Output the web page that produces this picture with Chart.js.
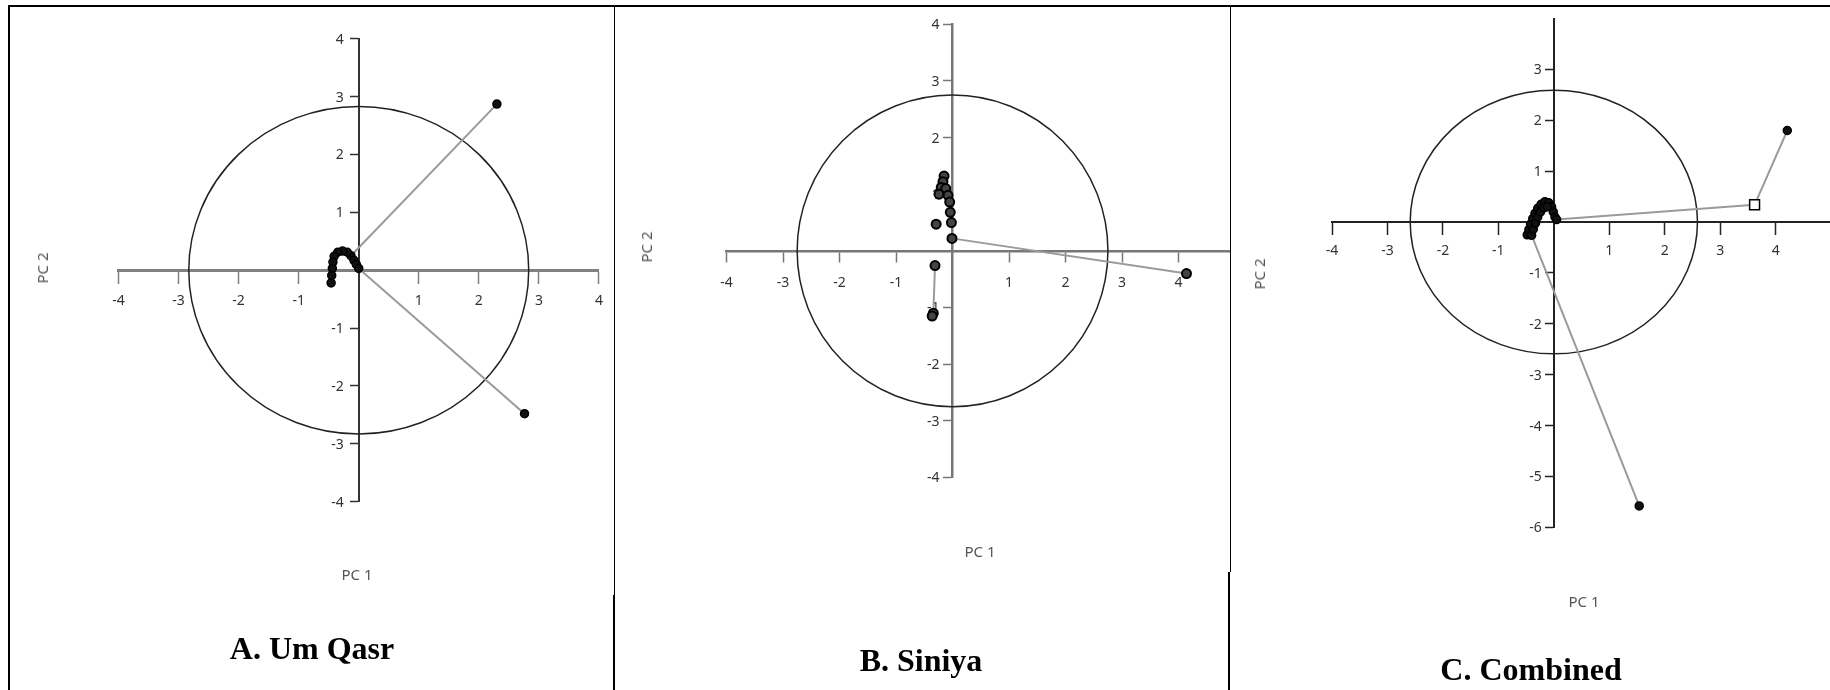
<!DOCTYPE html>
<html>
<head>
<meta charset="utf-8">
<title>PCA score plots</title>
<script src="https://cdn.jsdelivr.net/npm/chart.js@4.4.0/dist/chart.umd.min.js"></script>
<style>
  html, body { margin: 0; padding: 0; background: #fff; }
  body { position: relative; width: 1830px; height: 690px; overflow: hidden; font-family: 'Noto Sans', sans-serif; }
  canvas { position: absolute; top: 0; }
  .rule { position: absolute; background: #000; }
  .axis-title { position: absolute; font-size: 15px; color: #555; white-space: nowrap; transform: translate(-50%, -50%); }
  .axis-title.vertical { transform: translate(-50%, -50%) rotate(-90deg); }
  .caption { position: absolute; font-family: 'Liberation Serif', 'Times New Roman', serif; font-weight: bold; font-size: 32px; line-height: 32px; white-space: nowrap; transform: translateX(-50%); }
</style>
</head>
<body>

<!-- table lines around the three panels -->
<div class="rule" style="left:9px; top:5px; width:1821px; height:1.5px;"></div>
<div class="rule" style="left:8px; top:5px; width:1.6px; height:685px;"></div>
<div class="rule" style="left:613.5px; top:5px; width:1.4px; height:590px;"></div>
<div class="rule" style="left:612.5px; top:595px; width:2.4px; height:95px;"></div>
<div class="rule" style="left:1230px; top:5px; width:1.4px; height:567px;"></div>
<div class="rule" style="left:1228px; top:572px; width:2.4px; height:118px;"></div>

<canvas id="umQasr" width="613" height="690" style="left:0px"></canvas>
<canvas id="siniya" width="614" height="690" style="left:616px"></canvas>
<canvas id="combined" width="599" height="690" style="left:1231px"></canvas>

<div class="axis-title" style="left:357px; top:574px;">PC 1</div>
<div class="axis-title vertical" style="left:42px; top:268px;">PC 2</div>
<div class="axis-title" style="left:980px; top:551px;">PC 1</div>
<div class="axis-title vertical" style="left:646px; top:247px;">PC 2</div>
<div class="axis-title" style="left:1584px; top:601px;">PC 1</div>
<div class="axis-title vertical" style="left:1259px; top:274px;">PC 2</div>

<div class="caption" style="left:312px; top:632px;">A. Um Qasr</div>
<div class="caption" style="left:921px; top:644px;">B. Siniya</div>
<div class="caption" style="left:1531px; top:653px;">C. Combined</div>

<script>
// PC1 / PC2 scores
const umQasrPC1 = [2.30, -0.13, -0.19, -0.27, -0.35, -0.41, -0.43, -0.44, -0.45, -0.46, -0.08, -0.04, 0.00, 2.76];
const umQasrPC2 = [2.87, 0.25, 0.31, 0.33, 0.31, 0.24, 0.14, 0.03, -0.09, -0.22, 0.17, 0.10, 0.03, -2.48];
const umQasrLinks = [[0, 1], [12, 13]];
const umQasrRadius = 2.83;

const siniyaPC1 = [-0.15, -0.17, -0.20, -0.12, -0.24, -0.08, -0.05, -0.04, -0.29, -0.02, -0.01, -0.31, -0.34, -0.36, 4.14];
const siniyaPC2 = [1.32, 1.22, 1.12, 1.10, 1.00, 0.98, 0.86, 0.68, 0.47, 0.50, 0.22, -0.26, -1.10, -1.15, -0.40];
const siniyaLinks = [[10, 14], [11, 12]];
const siniyaRadius = 2.75;

const combinedPC1 = [-0.48, -0.45, -0.42, -0.38, -0.34, -0.29, -0.23, -0.16, -0.09, -0.04, -0.01, 0.02, 0.05,
                     -0.40, -0.37, -0.33, -0.29, -0.24, -0.18, -0.12, 3.62, 4.21, 1.54];
const combinedPC2 = [-0.25, -0.15, -0.04, 0.07, 0.17, 0.27, 0.35, 0.40, 0.38, 0.30, 0.20, 0.10, 0.05,
                     -0.26, -0.14, -0.02, 0.10, 0.20, 0.28, 0.30, 0.34, 1.80, -5.58];
const combinedLinks = [[12, 20], [20, 21], [13, 22]];
const combinedCentroidIndex = 20;
const combinedRadius = 2.59;

// tick labels
const pcTicks = [-4, -3, -2, -1, 1, 2, 3, 4];
const combinedYTicks = [-6, -5, -4, -3, -2, -1, 1, 2, 3];

const tickFont = '14px "Noto Sans"';
const tickColor = '#333';

// reference circle around the origin, drawn through the chart scales
const circlePlugin = {
  id: 'circle',
  beforeDatasetsDraw(chart, args, opts) {
    const { x, y } = chart.scales;
    const cx = x.getPixelForValue(0);
    const cy = y.getPixelForValue(0);
    const rx = x.getPixelForValue(opts.radius) - cx;
    const ry = cy - y.getPixelForValue(opts.radius);
    const ctx = chart.ctx;
    ctx.save();
    ctx.beginPath();
    ctx.ellipse(cx, cy, rx, ry, 0, 0, Math.PI * 2);
    ctx.strokeStyle = '#222';
    ctx.lineWidth = 1.5;
    ctx.stroke();
    ctx.restore();
  }
};

// chart.js puts y labels of an axis crossing at x=0 right on top of the ticks,
// so they are drawn here, left of the tick marks
const yLabelPlugin = {
  id: 'yLabels',
  beforeDatasetsDraw(chart, args, opts) {
    const { x, y } = chart.scales;
    const ctx = chart.ctx;
    const lx = x.getPixelForValue(0) - opts.offset;
    ctx.save();
    ctx.font = tickFont;
    ctx.fillStyle = tickColor;
    ctx.textAlign = 'right';
    ctx.textBaseline = 'middle';
    y.ticks.forEach(t => ctx.fillText(String(t.value), lx, y.getPixelForValue(t.value) + 1));
    ctx.restore();
  }
};

function buildDatasets(pc1, pc2, links, marker) {
  const points = pc1.map((v, i) => ({ x: v, y: pc2[i] }));
  const sets = [Object.assign({ data: points, showLine: false, order: 0 }, marker)];
  links.forEach(([a, b]) => {
    sets.push({
      data: [{ ...points[a] }, { ...points[b] }],
      showLine: true,
      pointRadius: 0,
      borderColor: '#9a9a9a',
      borderWidth: 2,
      order: 1
    });
  });
  return sets;
}

function axis(opts) {
  return {
    type: 'linear',
    min: opts.min,
    max: opts.max,
    position: opts.position,
    border: { color: opts.color, width: opts.width },
    grid: { drawOnChartArea: false, drawTicks: true, tickLength: opts.tickLength, tickColor: opts.color, tickWidth: 1.5 },
    ticks: {
      display: opts.labels !== false,
      color: tickColor,
      font: { family: 'Noto Sans', size: 14 },
      padding: opts.padding,
      maxRotation: 0,
      autoSkip: false
    },
    afterBuildTicks: scale => { scale.ticks = opts.ticks.map(v => ({ value: v })); }
  };
}

function makeChart(id, datasets, radius, labelOffset, padding, xAxis, yAxis) {
  return new Chart(document.getElementById(id), {
    type: 'scatter',
    data: { datasets },
    options: {
      responsive: false,
      animation: false,
      layout: { padding, autoPadding: false },
      plugins: {
        legend: { display: false },
        tooltip: { enabled: false },
        circle: { radius },
        yLabels: { offset: labelOffset }
      },
      scales: { x: xAxis, y: yAxis }
    },
    plugins: [circlePlugin, yLabelPlugin]
  });
}

makeChart('umQasr',
  buildDatasets(umQasrPC1, umQasrPC2, umQasrLinks, {
    pointRadius: 4, backgroundColor: '#111', borderColor: '#000', borderWidth: 1.5
  }),
  umQasrRadius, 15,
  { left: 118.5, right: 13.5, top: 38.7, bottom: 188.3 },
  axis({ min: -4, max: 4, position: { y: 0 }, color: '#808080', width: 3, tickLength: 12, padding: 10, ticks: pcTicks }),
  axis({ min: -4, max: 4, position: { x: 0 }, color: '#333', width: 2, tickLength: 8, labels: false, ticks: pcTicks })
);

makeChart('siniya',
  buildDatasets(siniyaPC1, siniyaPC2, siniyaLinks, {
    pointRadius: 4.5, backgroundColor: '#444', borderColor: '#000', borderWidth: 2
  }),
  siniyaRadius, 13,
  { left: 110.5, right: 0, top: 24.2, bottom: 212.5 },
  axis({ min: -4, max: 4.91, position: { y: 0 }, color: '#777', width: 2.5, tickLength: 10, padding: 14, ticks: pcTicks }),
  axis({ min: -4, max: 4, position: { x: 0 }, color: '#777', width: 2.5, tickLength: 8, labels: false, ticks: pcTicks })
);

makeChart('combined',
  buildDatasets(combinedPC1, combinedPC2, combinedLinks, {
    pointStyle: c => c.dataIndex === combinedCentroidIndex ? 'rect' : 'circle',
    pointRadius: c => c.dataIndex === combinedCentroidIndex ? 7 : 4,
    backgroundColor: c => c.dataIndex === combinedCentroidIndex ? '#fff' : '#111',
    borderColor: '#000',
    borderWidth: 1.5
  }),
  combinedRadius, 12,
  { left: 101, right: 0, top: 18.6, bottom: 162.7 },
  axis({ min: -4, max: 4.98, position: { y: 0 }, color: '#222', width: 2, tickLength: 12, padding: 9, ticks: pcTicks }),
  axis({ min: -6, max: 4, position: { x: 0 }, color: '#222', width: 2, tickLength: 8, labels: false, ticks: combinedYTicks })
);
</script>
</body>
</html>
